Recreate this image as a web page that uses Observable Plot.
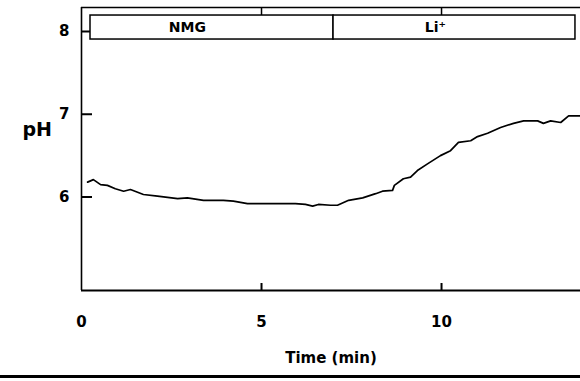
<!DOCTYPE html>
<html><head><meta charset="utf-8">
<script src="https://cdn.jsdelivr.net/npm/d3@7"></script>
<script src="https://cdn.jsdelivr.net/npm/@observablehq/plot@0.6"></script>
<style>
html,body{margin:0;padding:0;background:#fff;}
#chart svg{display:block;}
#rule{width:580px;height:0;border-top:3px solid #000;}
</style></head><body>
<div id="chart"></div>
<div id="rule"></div>
<script>
// Time (min) and pH
const timeMin = [0.17,0.33,0.53,0.72,0.94,1.17,1.36,1.72,2.11,2.67,2.94,3.39,3.94,4.22,4.61,4.97,5.47,5.94,6.22,6.42,6.58,6.92,7.11,7.42,7.81,8.17,8.36,8.64,8.69,8.94,9.14,9.33,9.61,9.97,10.25,10.47,10.81,11.0,11.28,11.64,12.0,12.28,12.67,12.83,13.03,13.31,13.53,13.86];
const pH      = [6.18,6.21,6.15,6.14,6.10,6.07,6.09,6.03,6.01,5.98,5.99,5.96,5.96,5.95,5.92,5.92,5.92,5.92,5.91,5.89,5.91,5.90,5.90,5.96,5.99,6.04,6.07,6.08,6.14,6.22,6.24,6.32,6.40,6.50,6.56,6.66,6.68,6.73,6.77,6.84,6.89,6.92,6.92,6.89,6.92,6.90,6.98,6.98];

// Perfusion periods
const periodLabels = ["NMG", "Li\u207A"];
const periodStart = [0.25, 7.0];
const periodEnd = [7.0, 13.72];
const periodLabelAt = [2.94, 9.83];

const xTicks = [0, 5, 10];
const topTicks = [5, 10];
const yTicks = [6, 7, 8];
const xLabel = "Time (min)";
const yLabel = "pH";

const xDomain = [0, 13.86];
const yDomain = [4.87, 8.29];

const trace = timeMin.map((t, i) => ({t, v: pH[i]}));
const periods = periodLabels.map((label, i) => ({label, start: periodStart[i], end: periodEnd[i], at: periodLabelAt[i]}));

const W = 580, H = 375, mL = 81, mR = 0, mT = 7, mB = 85;
const frameW = W - mL - mR, frameH = H - mT - mB;
const font = "DejaVu Sans";
const chart = Plot.plot({
  width: W,
  height: H,
  marginLeft: mL,
  marginRight: mR,
  marginTop: mT,
  marginBottom: mB,
  style: {fontFamily: font, fontWeight: "bold", fontSize: "15px", color: "#000", background: "#fff"},
  x: {domain: xDomain, label: null},
  y: {domain: yDomain, label: null},
  marks: [
    // frame lines (left, bottom, top)
    Plot.ruleX([xDomain[0]], {stroke: "#000", strokeWidth: 1.6}),
    Plot.ruleY([yDomain[0]], {stroke: "#000", strokeWidth: 2}),
    Plot.ruleY([yDomain[1]], {stroke: "#000", strokeWidth: 1.5}),
    // inward ticks
    Plot.ruleX(xTicks.filter(d => d > 0), {x: d => d, insetTop: frameH - 7, stroke: "#000", strokeWidth: 2}),
    Plot.ruleX(topTicks, {x: d => d, insetBottom: frameH - 8, stroke: "#000", strokeWidth: 1.5}),
    Plot.ruleY(yTicks, {y: d => d, insetRight: frameW - 11, stroke: "#000", strokeWidth: 2}),
    // tick labels
    Plot.axisX({ticks: xTicks, tickFormat: "d", tickSize: 0, tickPadding: 26, label: null, fontSize: 15, fontWeight: "bold"}),
    Plot.axisY({ticks: yTicks, tickFormat: "d", tickSize: 0, tickPadding: 12, label: null, fontSize: 15, fontWeight: "bold"}),
    // period boxes
    Plot.rect(periods, {x1: "start", x2: "end", y1: 7.903, y2: 8.193, fill: "#fff", stroke: "#000", strokeWidth: 1.5}),
    Plot.text(periods, {x: "at", y: 8.054, text: "label", fontSize: 14, fontWeight: "bold", fill: "#000"}),
    // trace
    Plot.line(trace, {x: "t", y: "v", stroke: "#000", strokeWidth: 1.7, curve: "linear"}),
    // axis titles
    Plot.text([yLabel], {frameAnchor: "left", dx: -59, dy: -19, fontSize: 19, fontWeight: "bold", fill: "#000"}),
    Plot.text([xLabel], {frameAnchor: "bottom", dy: 72, fontSize: 15, fontWeight: "bold", fill: "#000"})
  ]
});
document.getElementById("chart").appendChild(chart);
</script>
</body></html>
